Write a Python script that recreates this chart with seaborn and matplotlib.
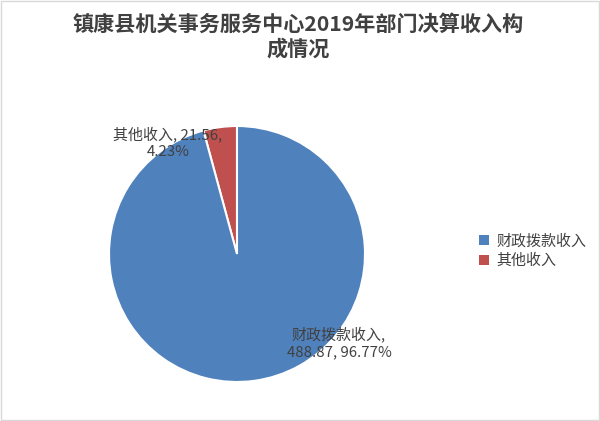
import matplotlib
matplotlib.use("Agg")
import matplotlib.pyplot as plt
import seaborn as sns
from matplotlib.patches import Patch, Rectangle

sns.set_theme(style="white")
plt.rcParams['font.family'] = ['Noto Sans CJK SC', 'DejaVu Sans']

title = "镇康县机关事务服务中心2019年部门决算收入构\n成情况"
categories = ["财政拨款收入", "其他收入"]
values = [488.87, 21.56]
pct_labels = ["96.77%", "4.23%"]
colors = ["#4F81BD", "#C0504D"]
text_color = "#404040"

fig = plt.figure(figsize=(6, 4.21), dpi=100)
fig.patch.set_facecolor("white")
fig.patches.append(Rectangle((0.002, 0.002), 0.996, 0.996, transform=fig.transFigure,
                             fill=False, edgecolor="#D9D9D9", linewidth=1.0))

fig.text(0.497, 0.913, title, ha="center", va="center", fontsize=15.2,
         fontweight="bold", color=text_color, linespacing=1.2)

ax = fig.add_axes([(237 - 128) / 600, (421 - 254 - 128) / 421, 256 / 600, 256 / 421])
# draw 其他收入 first, counterclockwise from top; blue fills the remainder
order = [1, 0]
wedges, _ = ax.pie([values[i] for i in order], colors=[colors[i] for i in order],
                   startangle=90, counterclock=True, radius=1,
                   wedgeprops=dict(edgecolor="white", linewidth=1.5))
ax.set_xlim(-1, 1)
ax.set_ylim(-1, 1)
ax.set_aspect("equal")
ax.axis("off")

fig.text(168 / 600, 1 - 143 / 421,
         f"{categories[1]}, {values[1]:.2f},\n{pct_labels[1]}",
         ha="center", va="center", fontsize=10.8, color=text_color, linespacing=1.25)
fig.text(339 / 600, 1 - 343 / 421,
         f"{categories[0]},\n{values[0]:.2f}, {pct_labels[0]}",
         ha="center", va="center", fontsize=10.8, color=text_color, linespacing=1.25)

handles = [Patch(facecolor=colors[i], edgecolor="none") for i in range(len(categories))]
leg = fig.legend(handles, categories, loc="center left",
                 bbox_to_anchor=(466 / 600, 1 - 251 / 421), frameon=False,
                 fontsize=10.8, handlelength=0.65, handleheight=0.65,
                 handletextpad=0.5, labelspacing=0.35)
for t in leg.get_texts():
    t.set_color(text_color)

fig.savefig("out.png", dpi=100, facecolor="white")
